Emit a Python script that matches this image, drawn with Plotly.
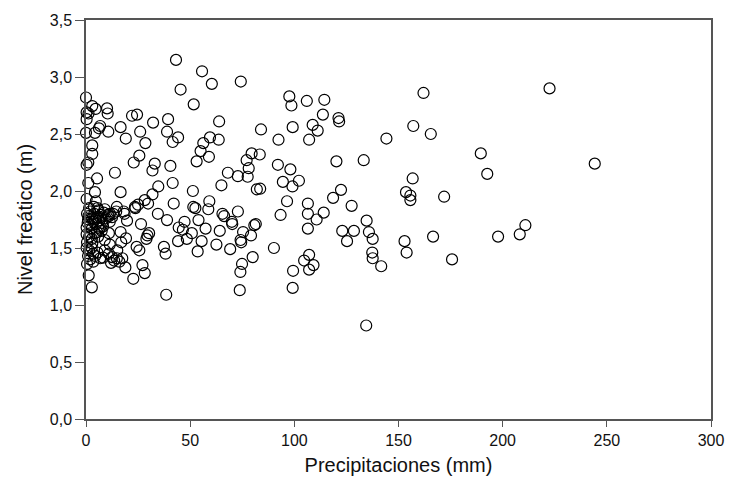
import plotly.graph_objects as go

# Precipitaciones (mm) and Nivel freático (m) pairs
top_x = [43.2, 55.7, 60.4, 74.3, 45.4, 51.7, 0.0, 0.3, 3.0, 4.6, 0.3, 1.2, 10.1, 10.4, 6.8, 6.2, 4.3, 0.0,
         10.7, 16.6, 19.1, 22.1, 24.5, 26.0, 32.2, 28.5, 39.4, 38.9, 41.6, 44.2, 63.9, 63.7, 59.5, 56.3,
         55.0, 59.0, 3.0, 3.0, 25.6, 79.5, 84.0, 162.0, 97.6, 98.6, 106.0, 114.4, 113.7, 121.2, 121.5,
         108.8, 111.2, 99.2, 92.4, 107.1, 144.2, 157.1, 165.5, 189.5, 83.4, 120.2, 133.3, 222.5]
top_y = [3.15, 3.05, 2.94, 2.96, 2.89, 2.76, 2.82, 2.69, 2.745, 2.72, 2.63, 2.68, 2.725, 2.68, 2.57, 2.55, 2.51, 2.51,
         2.52, 2.56, 2.46, 2.66, 2.67, 2.52, 2.60, 2.42, 2.63, 2.52, 2.43, 2.47, 2.61, 2.45, 2.47, 2.42,
         2.35, 2.30, 2.40, 2.325, 2.31, 2.33, 2.54, 2.86, 2.83, 2.75, 2.79, 2.80, 2.67, 2.64, 2.61,
         2.58, 2.53, 2.56, 2.45, 2.45, 2.46, 2.57, 2.50, 2.33, 2.32, 2.26, 2.27, 2.90]

mid_x = [1.1, 0.3, 22.9, 33.0, 31.9, 40.5, 53.1, 77.1, 78.1, 68.1, 72.9, 77.6, 65.0, 82.0, 5.3, 13.9, 1.1, 4.3,
         16.6, 0.3, 4.7, 41.6, 34.7, 31.9, 28.2, 29.8, 42.1, 51.3, 51.5, 52.5, 59.2, 58.7, 23.5, 25.0, 34.5,
         18.5, 19.7, 26.4, 38.9, 47.3, 54.0, 44.5, 46.5, 50.8, 57.4, 64.2, 65.5, 66.3, 70.0, 72.9, 70.2,
         75.4, 74.2, 80.8, 79.2, 44.2, 48.4, 55.5, 53.6, 62.6, 69.2, 74.5, 80.0, 74.9, 74.1, 73.8, 37.4,
         38.2, 38.5, 29.5, 30.3, 29.0, 24.3, 25.6, 27.1, 28.2, 22.7, 18.9, 16.9, 19.2, 16.6, 11.0, 17.4,
         14.8, 14.5, 11.0, 13.0, 11.4, 6.6, 5.2, 1.3, 2.8, 23.7, 18.1]
mid_y = [2.25, 2.23, 2.25, 2.24, 2.18, 2.22, 2.26, 2.27, 2.20, 2.16, 2.13, 2.125, 2.05, 2.015, 2.11, 2.16, 2.07, 1.99,
         1.99, 1.93, 1.91, 2.07, 2.04, 1.97, 1.92, 1.89, 1.89, 2.00, 1.86, 1.85, 1.91, 1.84, 1.86, 1.88, 1.80,
         1.80, 1.74, 1.71, 1.745, 1.73, 1.745, 1.68, 1.66, 1.63, 1.67, 1.65, 1.80, 1.78, 1.73, 1.82, 1.71,
         1.64, 1.57, 1.70, 1.61, 1.56, 1.58, 1.56, 1.47, 1.53, 1.49, 1.55, 1.42, 1.36, 1.29, 1.13, 1.51,
         1.45, 1.09, 1.61, 1.63, 1.58, 1.51, 1.48, 1.35, 1.28, 1.23, 1.33, 1.55, 1.585, 1.64, 1.63, 1.41,
         1.86, 1.82, 1.78, 1.80, 1.73, 1.67, 1.64, 1.26, 1.155, 1.85, 1.82]

cluster_x = [0.5, 1.2, 2.0, 3.0, 4.0, 5.0, 6.0, 7.2, 8.5, 9.5, 0.8, 2.2, 3.5, 4.8, 6.2, 7.8, 1.5, 3.8, 5.5, 9.0,
             10.5, 2.8, 0.3, 5.8, 8.2, 11.5, 12.5, 1.0, 4.3, 6.8,
             0.3, 1.5, 2.8, 4.3, 5.8, 7.5, 0.5, 3.0,
             0.3, 1.5, 2.7, 3.5, 1.0, 4.4, 2.0, 5.5, 6.8, 3.5, 8.2, 0.5, 9.0,
             9.0, 11.4, 11.0, 12.5, 13.5, 14.8, 16.0, 12.0, 15.0]
cluster_y = [1.80, 1.78, 1.82, 1.76, 1.80, 1.77, 1.83, 1.79, 1.81, 1.76, 1.72, 1.70, 1.73, 1.71, 1.74, 1.72, 1.85, 1.86, 1.85, 1.84,
             1.79, 1.67, 1.68, 1.68, 1.69, 1.80, 1.77, 1.75, 1.75, 1.77,
             1.62, 1.60, 1.58, 1.63, 1.60, 1.65, 1.55, 1.54,
             1.50, 1.48, 1.50, 1.45, 1.43, 1.43, 1.40, 1.46, 1.41, 1.38, 1.415, 1.36, 1.48,
             1.57, 1.53, 1.45, 1.42, 1.39, 1.41, 1.38, 1.37, 1.48]

right_x = [192.6, 92.1, 98.1, 94.5, 99.1, 102.2, 83.6, 96.5, 106.5, 93.4, 106.5, 110.7, 114.1, 118.6, 122.4,
           127.5, 106.5, 123.0, 128.6, 125.3, 134.7, 135.8, 137.6, 137.4, 137.6, 141.7, 153.6, 155.7, 155.7,
           156.8, 171.9, 152.9, 153.9, 166.6, 175.7, 81.5, 90.2, 107.1, 104.7, 109.2, 107.1, 99.4, 99.2,
           134.5, 244.2, 197.8, 208.2, 210.9]
right_y = [2.15, 2.23, 2.19, 2.08, 2.04, 2.09, 2.02, 1.91, 1.89, 1.79, 1.80, 1.75, 1.81, 1.94, 2.01,
           1.87, 1.67, 1.65, 1.65, 1.56, 1.74, 1.64, 1.58, 1.46, 1.41, 1.34, 1.99, 1.96, 1.92,
           2.11, 1.95, 1.56, 1.46, 1.60, 1.40, 1.71, 1.50, 1.44, 1.39, 1.35, 1.31, 1.30, 1.15,
           0.82, 2.24, 1.60, 1.62, 1.70]

x_vals = top_x + mid_x + cluster_x + right_x
y_vals = top_y + mid_y + cluster_y + right_y

x_ticks = [0, 50, 100, 150, 200, 250, 300]
y_ticks = [0.0, 0.5, 1.0, 1.5, 2.0, 2.5, 3.0, 3.5]
y_tick_text = ["0,0", "0,5", "1,0", "1,5", "2,0", "2,5", "3,0", "3,5"]

FONT = "Liberation Sans, Arial, sans-serif"
AX = "#555555"

fig = go.Figure(go.Scatter(
    x=x_vals, y=y_vals, mode="markers", cliponaxis=False,
    marker=dict(symbol="circle-open", size=11, color="black", line=dict(width=1.2)),
))

fig.update_layout(
    width=736, height=487,
    margin=dict(l=86, r=16, t=19, b=68),
    paper_bgcolor="white", plot_bgcolor="white",
    font=dict(family=FONT, color="#111111"),
    showlegend=False,
)
fig.update_xaxes(
    range=[0, 300], tickvals=x_ticks, showgrid=False, zeroline=False,
    showline=True, linecolor=AX, linewidth=1.5, mirror=True,
    ticks="outside", ticklen=6, tickcolor=AX, tickwidth=1.2,
    tickfont=dict(size=16),
    title=dict(text="Precipitaciones (mm)", font=dict(size=20), standoff=10),
)
fig.update_yaxes(
    range=[0, 3.5], tickvals=y_ticks, ticktext=y_tick_text, showgrid=False, zeroline=False,
    showline=True, linecolor=AX, linewidth=1.5, mirror=True,
    ticks="outside", ticklen=9, tickcolor=AX, tickwidth=1.2,
    tickfont=dict(size=16),
    title=dict(text="Nivel freático (m)", font=dict(size=20), standoff=12),
)

fig.write_html("out.html")
